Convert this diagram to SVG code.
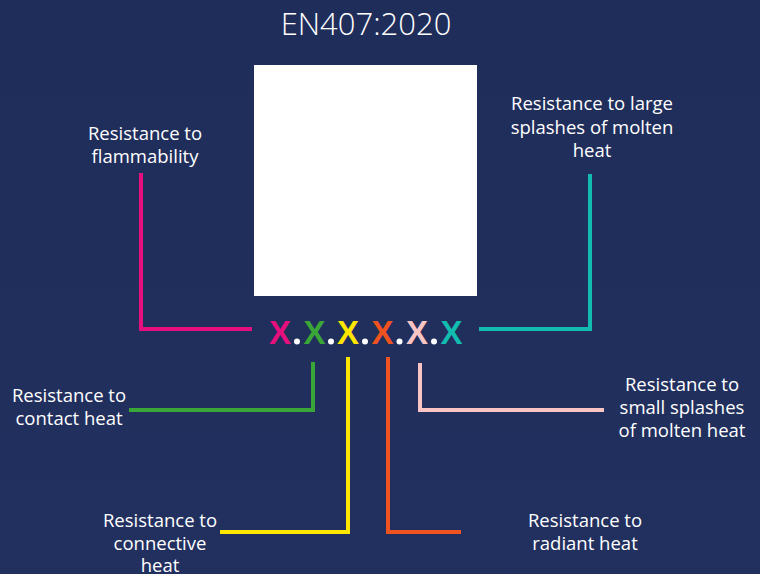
<svg xmlns="http://www.w3.org/2000/svg" width="760" height="574" viewBox="0 0 760 574">
<defs>
<linearGradient id="bg" x1="0" y1="0" x2="0" y2="1">
<stop offset="0" stop-color="#1f2d5a"/>
<stop offset="1" stop-color="#22305f"/>
</linearGradient>
</defs>
<style>
.lbl{font-family:"Open Sans",Lato,sans-serif;font-size:18.5px;fill:#ffffff;text-anchor:middle}
.ln{fill:none;stroke-width:4;stroke-linejoin:miter}
.x{font-family:"Liberation Sans",Arial,sans-serif;font-weight:bold;font-size:33px}
.dot{fill:#ffffff}
</style>
<rect width="760" height="574" fill="url(#bg)"/>
<text x="366" y="35" font-family="'Open Sans',sans-serif" font-size="31" fill="#ffffff" text-anchor="middle" font-weight="300">EN407:2020</text>
<g id="image"><rect x="254" y="65" width="223" height="231" fill="#ffffff"/></g>
<g id="code">
<text class="x" x="280" y="344" fill="#e5107d" text-anchor="middle">X</text>
<circle class="dot" cx="297" cy="341.5" r="3"/>
<text class="x" x="314.5" y="344" fill="#3aa637" text-anchor="middle">X</text>
<circle class="dot" cx="331" cy="341.5" r="3"/>
<text class="x" x="348" y="344" fill="#ffe600" text-anchor="middle">X</text>
<circle class="dot" cx="365" cy="341.5" r="3"/>
<text class="x" x="382.5" y="344" fill="#f0531f" text-anchor="middle">X</text>
<circle class="dot" cx="399.5" cy="341.5" r="3"/>
<text class="x" x="417" y="344" fill="#f9c4c4" text-anchor="middle">X</text>
<circle class="dot" cx="434" cy="341.5" r="3"/>
<text class="x" x="451.5" y="344" fill="#13bcb0" text-anchor="middle">X</text>
</g>
<g id="connectors">
<polyline class="ln" stroke="#e5107d" points="141,173 141,329 252,329"/>
<polyline class="ln" stroke="#13bcb0" points="479,329 590,329 590,174"/>
<polyline class="ln" stroke="#3aa637" points="313,362 313,410 129,410"/>
<polyline class="ln" stroke="#ffe600" points="348,357 348,532 220,532"/>
<polyline class="ln" stroke="#f0531f" points="388,357 388,532 461,532"/>
<polyline class="ln" stroke="#f9c4c4" points="420,363 420,410 604,410"/>
</g>
<g id="n-flammability"><text class="lbl"><tspan x="145" y="140">Resistance to</tspan><tspan x="145" y="163">flammability</tspan></text></g>
<g id="n-large"><text class="lbl"><tspan x="592" y="110">Resistance to large</tspan><tspan x="592" y="134">splashes of molten</tspan><tspan x="592" y="157">heat</tspan></text></g>
<g id="n-contact"><text class="lbl"><tspan x="69" y="402">Resistance to</tspan><tspan x="69" y="425">contact heat</tspan></text></g>
<g id="n-connective"><text class="lbl"><tspan x="160" y="527">Resistance to</tspan><tspan x="160" y="550">connective</tspan><tspan x="160" y="572">heat</tspan></text></g>
<g id="n-radiant"><text class="lbl"><tspan x="585" y="527">Resistance to</tspan><tspan x="585" y="550">radiant heat</tspan></text></g>
<g id="n-small"><text class="lbl"><tspan x="682" y="391">Resistance to</tspan><tspan x="682" y="414">small splashes</tspan><tspan x="682" y="437">of molten heat</tspan></text></g>
</svg>
